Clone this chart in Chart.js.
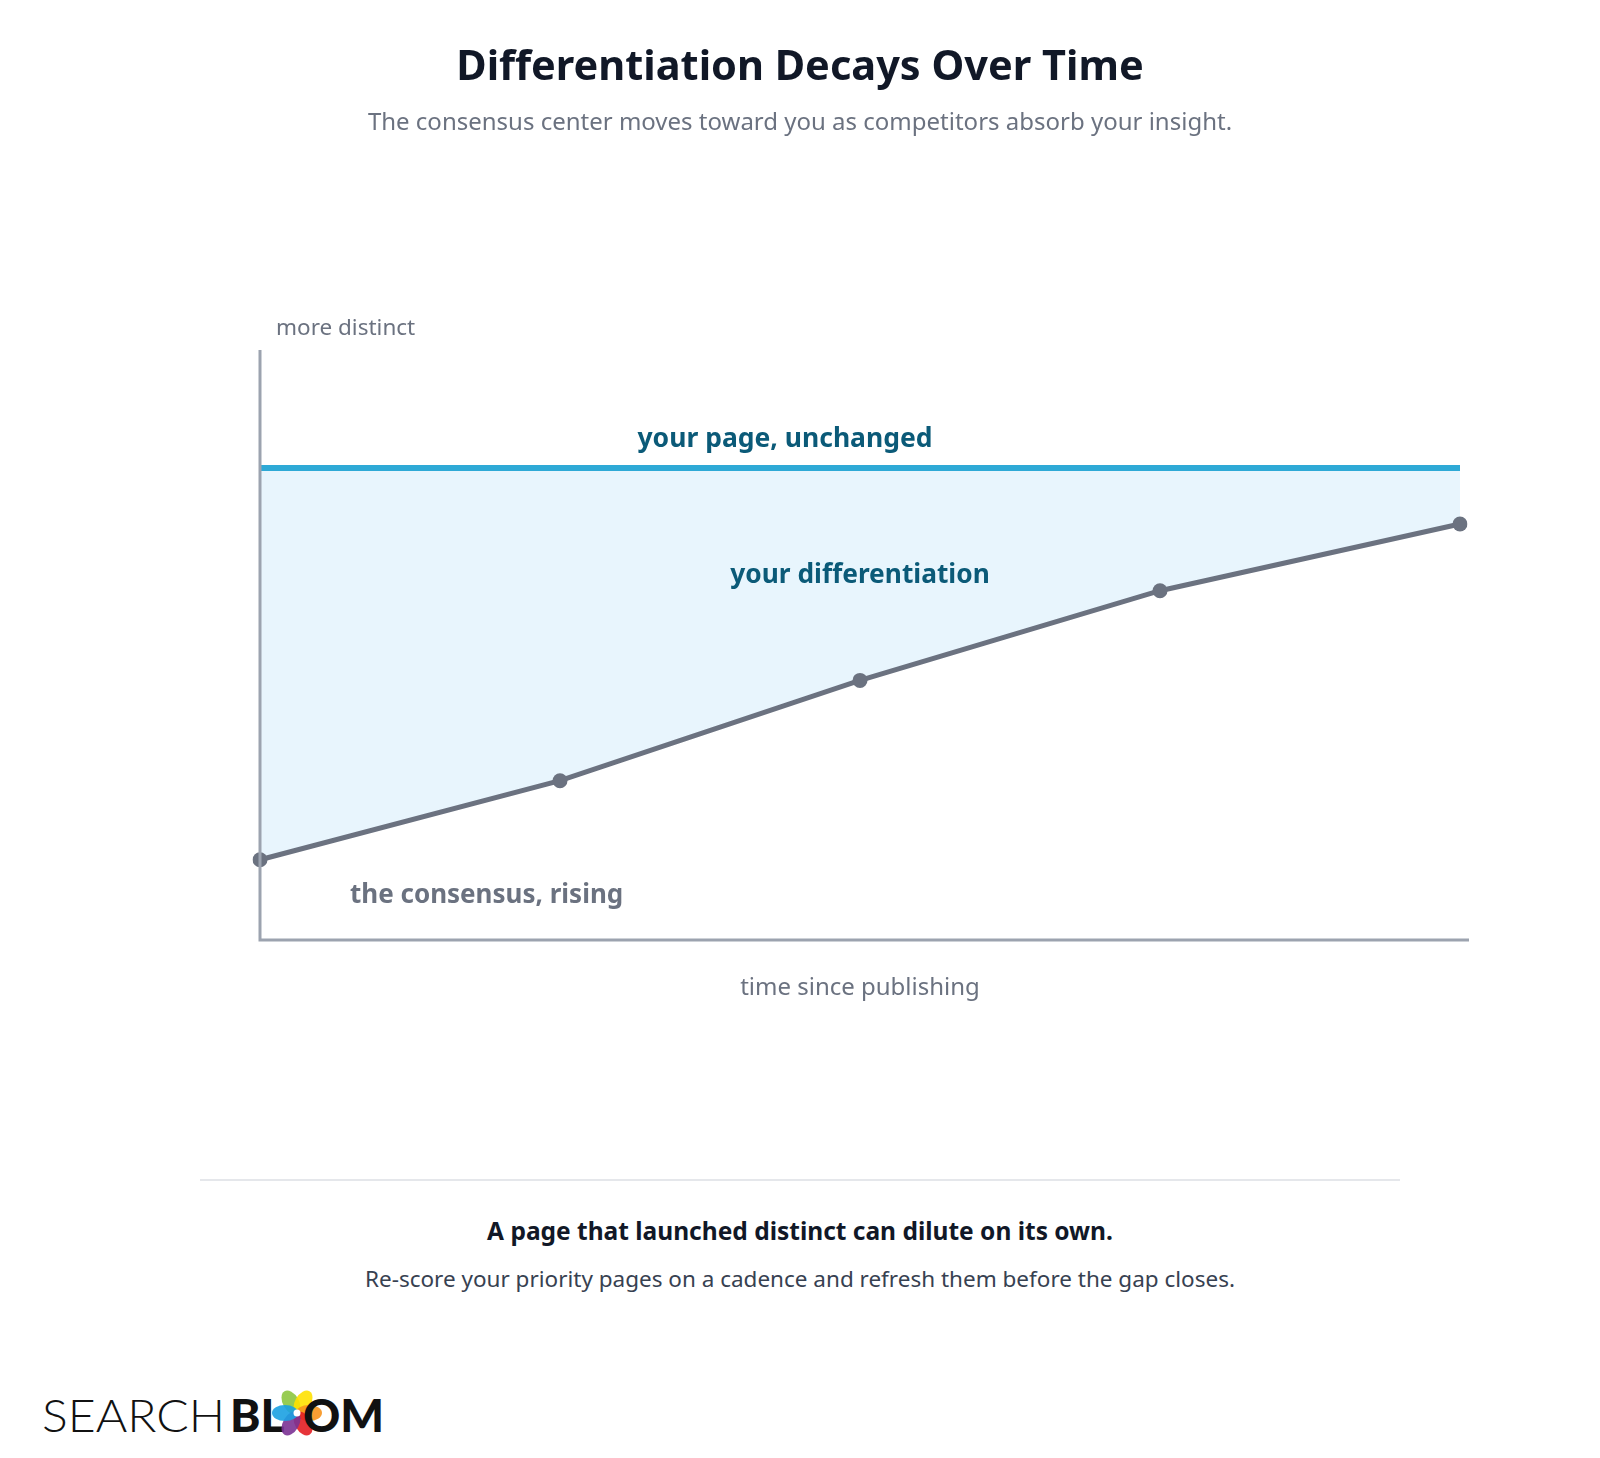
<!DOCTYPE html>
<html>
<head>
<meta charset="utf-8">
<script src="https://cdn.jsdelivr.net/npm/chart.js@4.4.1/dist/chart.umd.min.js"></script>
<style>
  body { margin: 0; background: #fff; font-family: "Noto Sans", sans-serif; }
  .page { position: relative; width: 1600px; height: 1458px; overflow: hidden; }
  h1 { position: absolute; top: 38px; left: 0; width: 1600px; margin: 0; text-align: center;
       font-size: 41.5px; font-weight: 700; color: #111827; line-height: 52px; }
  .sub { position: absolute; top: 105px; left: 0; width: 1600px; text-align: center;
         font-size: 24px; color: #6b7280; line-height: 32px; }
  #chart { position: absolute; top: 0; left: 0; }
  .rule { position: absolute; top: 1179px; left: 200px; width: 1200px; height: 2px; background: #e5e7eb; }
  .note { position: absolute; top: 1214px; left: 0; width: 1600px; text-align: center;
          font-size: 24.5px; font-weight: 700; color: #111827; line-height: 34px; }
  .note2 { position: absolute; top: 1263px; left: 0; width: 1600px; text-align: center;
           font-size: 22.5px; color: #374151; line-height: 32px; }
  .logo { position: absolute; left: 40px; top: 1384px; }
</style>
</head>
<body>
<div class="page">
  <canvas id="chart" width="1600" height="1100"></canvas>
  <h1>Differentiation Decays Over Time</h1>
  <div class="sub">The consensus center moves toward you as competitors absorb your insight.</div>
  <div class="rule"></div>
  <div class="note">A page that launched distinct can dilute on its own.</div>
  <div class="note2">Re-score your priority pages on a cadence and refresh them before the gap closes.</div>
  <svg class="logo" width="360" height="64" viewBox="0 0 360 64">
    <text x="2" y="48" font-family="Lato, sans-serif" font-weight="300" font-size="46" fill="#111" textLength="183" lengthAdjust="spacingAndGlyphs">SEARCH</text>
    <text x="190" y="48" font-family="Lato, sans-serif" font-weight="900" font-size="46" fill="#111">BL</text>
    <g transform="translate(257,29)">
      <ellipse cx="0" cy="-12" rx="8" ry="13" fill="#8dc63f" opacity="0.9" transform="rotate(-30)"/>
      <ellipse cx="0" cy="-12" rx="8" ry="13" fill="#ffe100" opacity="0.9" transform="rotate(30)"/>
      <ellipse cx="0" cy="-12" rx="8" ry="13" fill="#f7941d" opacity="0.9" transform="rotate(90)"/>
      <ellipse cx="0" cy="-12" rx="8" ry="13" fill="#e31e24" opacity="0.9" transform="rotate(150)"/>
      <ellipse cx="0" cy="-12" rx="8" ry="13" fill="#7b3294" opacity="0.9" transform="rotate(210)"/>
      <ellipse cx="0" cy="-12" rx="8" ry="13" fill="#1ba1e2" opacity="0.9" transform="rotate(270)"/>
      <circle cx="0" cy="0" r="3.5" fill="#fff"/>
    </g>
    <text x="263" y="48" font-family="Lato, sans-serif" font-weight="900" font-size="46" fill="#111">OM</text>
  </svg>
</div>
<script>
  // Data
  const periods = ['launch', 't1', 't2', 't3', 't4'];
  const yourPage = [80, 80, 80, 80, 80];
  const consensus = [13.6, 27, 44, 59.2, 70.5];

  const axisColor = '#9ca3af';
  const grayText = '#6b7280';
  const tealText = '#0b5a78';

  // axes and annotation text drawn from the scales
  const decorations = {
    id: 'decorations',
    afterDatasetsDraw(chart) {
      const { ctx, chartArea: a, scales: { x, y } } = chart;
      ctx.save();
      ctx.strokeStyle = axisColor;
      ctx.lineWidth = 3;
      ctx.beginPath();
      ctx.moveTo(a.left, a.top);
      ctx.lineTo(a.left, a.bottom);
      ctx.lineTo(a.right + 9, a.bottom);
      ctx.stroke();

      ctx.textBaseline = 'middle';
      ctx.font = '22.5px "Noto Sans", sans-serif';
      ctx.fillStyle = grayText;
      ctx.textAlign = 'left';
      ctx.fillText('more distinct', a.left + 16, a.top - 21);
      ctx.textAlign = 'center';
      ctx.font = '24px "Noto Sans", sans-serif';
      ctx.fillText('time since publishing', (a.left + a.right) / 2, a.bottom + 48);

      ctx.font = 'bold 26.5px "Noto Sans", sans-serif';
      ctx.fillStyle = tealText;
      ctx.fillText('your page, unchanged', x.getPixelForValue(1.75), y.getPixelForValue(yourPage[0]) - 29);
      ctx.font = 'bold 26.3px "Noto Sans", sans-serif';
      ctx.fillText('your differentiation', x.getPixelForValue(2), y.getPixelForValue(61.7));
      ctx.fillStyle = grayText;
      ctx.textAlign = 'left';
      ctx.font = 'bold 26px "Noto Sans", sans-serif';
      ctx.fillText('the consensus, rising', a.left + 90, y.getPixelForValue(7.5));
      ctx.restore();
    }
  };

  new Chart(document.getElementById('chart'), {
    type: 'line',
    data: {
      labels: periods,
      datasets: [{
        data: yourPage,
        borderColor: '#2ea9d6',
        borderWidth: 6,
        pointRadius: 0,
        fill: false,
        tension: 0
      }, {
        data: consensus,
        borderColor: '#6b7280',
        borderWidth: 5,
        pointRadius: 7.5,
        pointBackgroundColor: '#6b7280',
        pointBorderWidth: 0,
        fill: { target: 0 },
        backgroundColor: '#e8f5fd',
        tension: 0
      }]
    },
    options: {
      responsive: false,
      animation: false,
      layout: { padding: { left: 260, right: 140, top: 350, bottom: 160 } },
      scales: {
        x: { display: false },
        y: { display: false, min: 0, max: 100 }
      },
      plugins: {
        legend: { display: false },
        tooltip: { enabled: false }
      }
    },
    plugins: [decorations]
  });
</script>
</body>
</html>
